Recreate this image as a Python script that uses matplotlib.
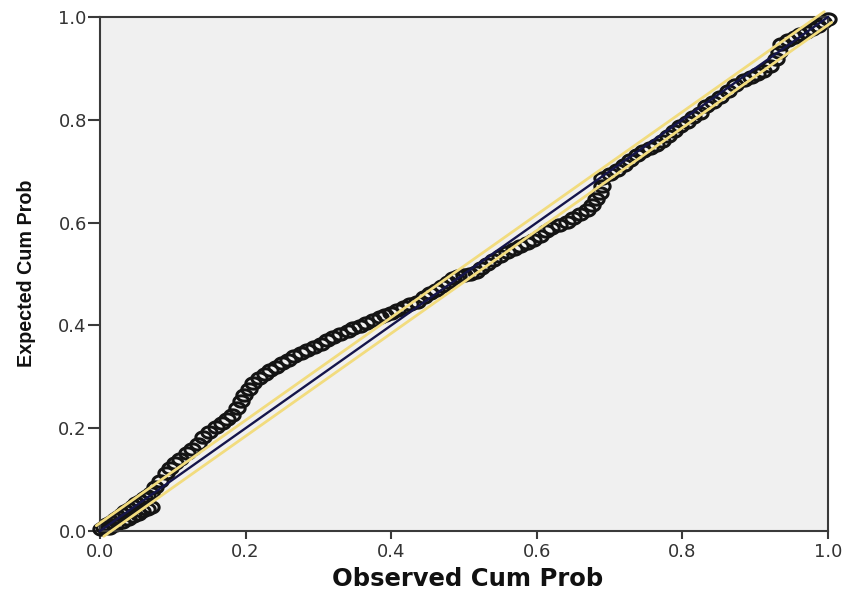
import numpy as np
import matplotlib
matplotlib.use("Agg")
import matplotlib.pyplot as plt
from matplotlib.path import Path
from matplotlib import transforms

# ---- data ----
observed_cum_prob = [
    0.002, 0.006, 0.010, 0.015, 0.020, 0.025, 0.030, 0.035, 0.040, 0.045,
    0.050, 0.055, 0.060, 0.065, 0.070,
    0.012, 0.020, 0.030, 0.038, 0.045, 0.052, 0.058, 0.064, 0.070,
    0.075, 0.082, 0.090, 0.096, 0.103, 0.110, 0.119, 0.126, 0.134, 0.142,
    0.150, 0.160, 0.168, 0.175, 0.182, 0.188, 0.193, 0.198, 0.204, 0.210,
    0.218, 0.226, 0.234, 0.242, 0.250, 0.258, 0.267, 0.276, 0.285, 0.294,
    0.303, 0.312, 0.320, 0.330, 0.340, 0.348, 0.357, 0.366, 0.375, 0.384,
    0.392, 0.400, 0.408, 0.417, 0.426, 0.435, 0.445, 0.453, 0.462, 0.470,
    0.478, 0.485, 0.492, 0.500, 0.508, 0.517, 0.524, 0.532, 0.540, 0.549,
    0.559, 0.568, 0.577, 0.586, 0.595, 0.604, 0.612, 0.620, 0.630, 0.641,
    0.650, 0.660, 0.669, 0.676, 0.682, 0.687, 0.689, 0.690, 0.700, 0.710,
    0.720, 0.728, 0.737, 0.746, 0.755, 0.764, 0.772, 0.780, 0.788, 0.797,
    0.806, 0.815, 0.824, 0.833, 0.842, 0.852, 0.862, 0.872, 0.884, 0.894,
    0.903, 0.911, 0.920, 0.929, 0.933, 0.936, 0.945, 0.954, 0.962, 0.970,
    0.978, 0.986, 0.993, 1.000,
]
expected_cum_prob = [
    0.004, 0.008, 0.013, 0.018, 0.023, 0.028, 0.033, 0.038, 0.043, 0.048,
    0.054, 0.059, 0.064, 0.069, 0.074,
    0.006, 0.011, 0.018, 0.024, 0.029, 0.034, 0.038, 0.042, 0.046,
    0.085, 0.098, 0.112, 0.122, 0.132, 0.140, 0.151, 0.160, 0.170, 0.183,
    0.192, 0.203, 0.210, 0.218, 0.226, 0.240, 0.252, 0.265, 0.277, 0.287,
    0.297, 0.305, 0.313, 0.320, 0.326, 0.333, 0.340, 0.347, 0.353, 0.358,
    0.364, 0.371, 0.377, 0.383, 0.389, 0.394, 0.399, 0.405, 0.411, 0.416,
    0.421, 0.425, 0.430, 0.436, 0.441, 0.446, 0.455, 0.463, 0.469, 0.476,
    0.484, 0.492, 0.496, 0.499, 0.500, 0.503, 0.511, 0.519, 0.527, 0.535,
    0.543, 0.549, 0.555, 0.561, 0.566, 0.574, 0.583, 0.590, 0.596, 0.602,
    0.609, 0.617, 0.625, 0.635, 0.646, 0.657, 0.672, 0.686, 0.694, 0.702,
    0.713, 0.722, 0.732, 0.739, 0.745, 0.751, 0.759, 0.768, 0.778, 0.787,
    0.796, 0.805, 0.814, 0.826, 0.835, 0.845, 0.857, 0.867, 0.877, 0.884,
    0.889, 0.894, 0.905, 0.918, 0.932, 0.947, 0.955, 0.961, 0.966, 0.971,
    0.977, 0.983, 0.990, 0.997,
]
ref_line = [0.0, 1.0]
tick_values = [0.0, 0.2, 0.4, 0.6, 0.8, 1.0]
tick_labels = ["0.0", "0.2", "0.4", "0.6", "0.8", "1.0"]

# ---- figure ----
W, H, DPI = 856, 590, 100
fig = plt.figure(figsize=(W / DPI, H / DPI), dpi=DPI)
fig.patch.set_facecolor("white")
ax = fig.add_axes([100 / W, 59 / H, 728 / W, 514 / H])
ax.set_facecolor("#F0F0F0")
ax.set_xlim(0, 1)
ax.set_ylim(0, 1)

# horizontally stretched open-circle marker
t = np.linspace(0, 2 * np.pi, 60)
ell = Path(np.column_stack([1.35 * np.cos(t), np.sin(t)]), closed=True)

ax.plot(observed_cum_prob, expected_cum_prob, linestyle="none",
        marker=ell, markersize=11, markerfacecolor="none",
        markeredgecolor="#141414", markeredgewidth=2.2, zorder=2,
        clip_on=False)

# reference line with yellow outline
fig.canvas.draw()
bb = ax.get_window_extent()
vx, vy = bb.width, bb.height
n = np.hypot(vx, vy)
px, py = -vy / n, vx / n
off = 6.5
for s in (1, -1):
    tr = transforms.offset_copy(ax.transData, fig=fig, x=s * off * px,
                                y=s * off * py, units="dots")
    ax.plot(ref_line, ref_line, color="#F2DC7E", lw=2.0, transform=tr,
            zorder=3, clip_on=False, solid_capstyle="round")
ax.plot(ref_line, ref_line, color="#15154A", lw=1.7, zorder=4, clip_on=False)

# spines & ticks
for sp in ax.spines.values():
    sp.set_color("#3a3a3a")
    sp.set_linewidth(1.5)
ax.set_xticks(tick_values)
ax.set_xticklabels(tick_labels)
ax.set_yticks(tick_values)
ax.set_yticklabels(tick_labels)
ax.tick_params(axis="x", direction="out", length=5.5, width=1.5,
               color="#3a3a3a", pad=3, labelsize=13, labelcolor="#333333")
ax.tick_params(axis="y", direction="out", length=8.5, width=1.5,
               color="#3a3a3a", pad=1, labelsize=13, labelcolor="#333333")
for lab in ax.get_xticklabels() + ax.get_yticklabels():
    lab.set_fontfamily("DejaVu Sans")

fig.text(468 / W, 1 - 579 / H, "Observed Cum Prob", ha="center",
         va="center", fontsize=17.5, fontweight="bold", family="DejaVu Sans",
         color="#111111")
fig.text(27 / W, 1 - 273 / H, "Expected Cum Prob", ha="center",
         va="center", rotation=90, fontsize=14.2, fontweight="bold",
         family="Liberation Sans", color="#111111")

fig.savefig("out.png", dpi=DPI)
